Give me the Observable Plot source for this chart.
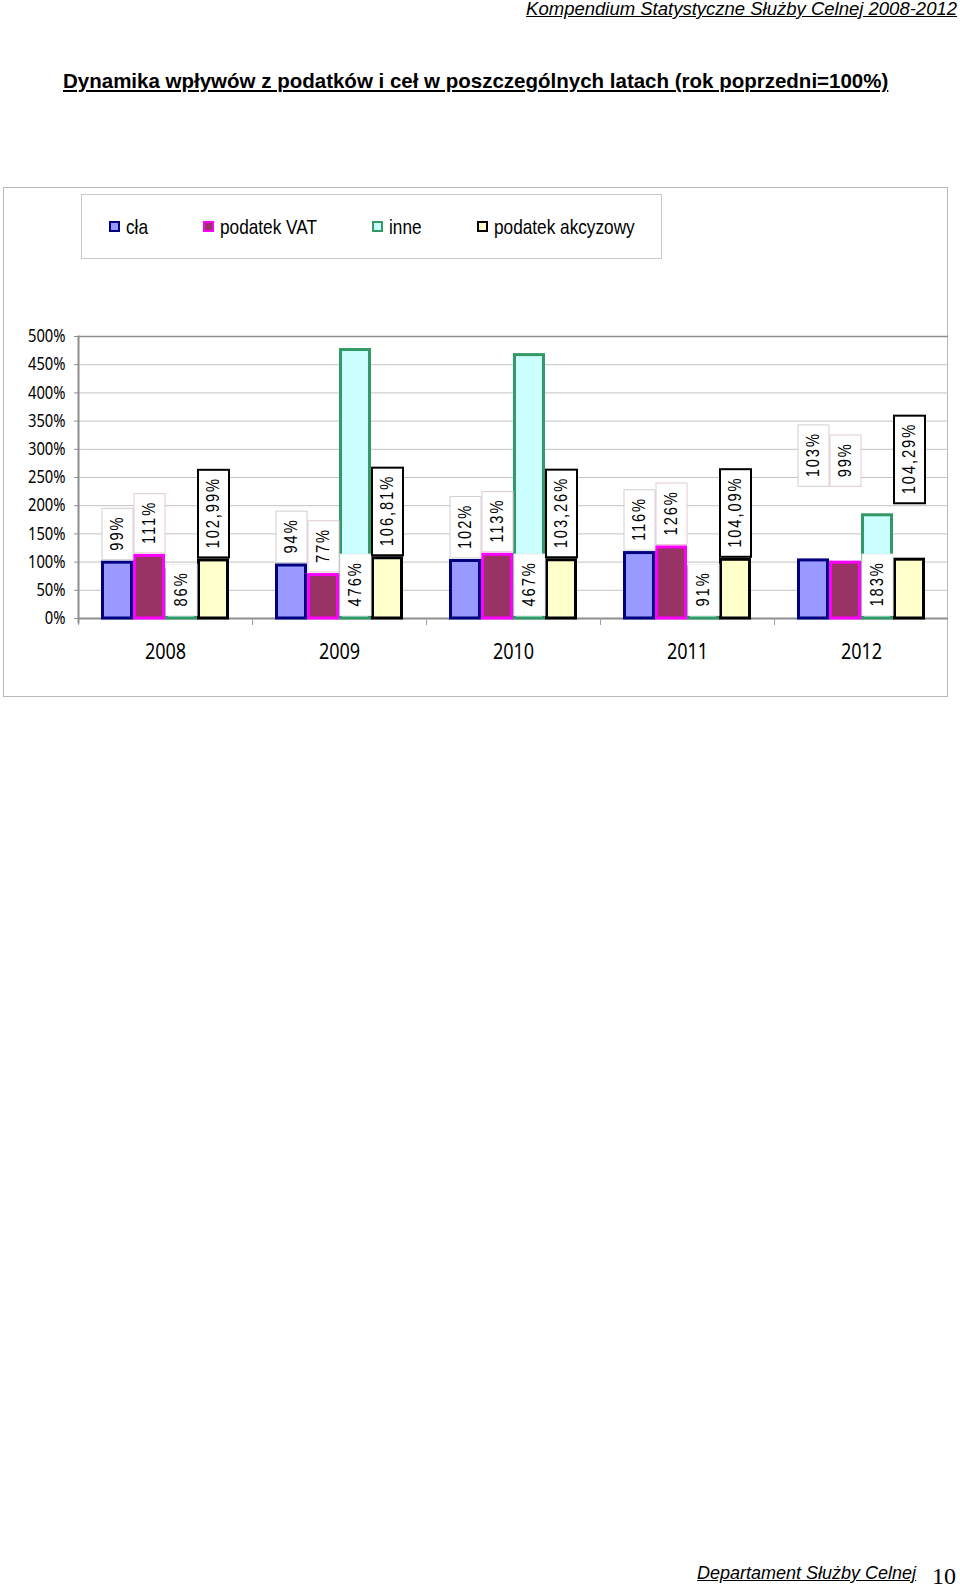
<!DOCTYPE html>
<html><head><meta charset="utf-8">
<script src="https://cdn.jsdelivr.net/npm/d3@7"></script>
<script src="https://cdn.jsdelivr.net/npm/@observablehq/plot@0.6"></script>
<style>
body{margin:0;background:#fff;width:960px;height:1588px;position:relative;overflow:hidden;font-family:"Liberation Sans",Arial,sans-serif;color:#000;}
.abs{position:absolute;white-space:nowrap;line-height:1;}
#header{right:3px;top:0px;font-size:18.5px;font-style:italic;text-decoration:underline;}
#title{left:63px;top:71px;font-size:20.5px;font-weight:bold;text-decoration:underline;}
#frame{left:3px;top:187px;width:945px;height:510px;border:1.5px solid #b8b8b8;box-sizing:border-box;}
#legend{left:81px;top:194px;width:581px;height:65px;border:1.5px solid #c8c8c8;box-sizing:border-box;display:flex;align-items:center;padding-left:27px;gap:55px;font-size:21px;line-height:1;}
.item{display:flex;align-items:center;}
.sw{width:7px;height:7px;border:2.5px solid;margin-right:6px;flex:none;}
.lt{display:inline-block;transform:scaleX(0.82);transform-origin:0 50%;}
#chart{left:0;top:320px;}
#footer{left:697px;top:1564px;font-size:18px;font-style:italic;text-decoration:underline;}
#pageno{left:932px;top:1566px;font-family:"Liberation Serif","Times New Roman",serif;font-size:24px;line-height:20px;}
</style>
</head>
<body>
<div id="header" class="abs">Kompendium Statystyczne Służby Celnej 2008-2012</div>
<div id="title" class="abs">Dynamika wpływów z podatków i ceł w poszczególnych latach (rok poprzedni=100%)</div>
<div id="frame" class="abs"></div>
<div id="legend" class="abs"></div>
<div id="chart" class="abs"></div>
<div id="footer" class="abs">Departament Służby Celnej</div>
<div id="pageno" class="abs">10</div>
<script>
// ---- data ----
const years = ["2008", "2009", "2010", "2011", "2012"];
const series = ["cła", "podatek VAT", "inne", "podatek akcyzowy"];
const cla = [99, 94, 102, 116, 103];
const vat = [111, 77, 113, 126, 99];
const inne = [86, 476, 467, 91, 183];
const akcyza = [102.99, 106.81, 103.26, 104.09, 104.29];
const yTicks = [0, 50, 100, 150, 200, 250, 300, 350, 400, 450, 500];

// ---- styles ----
const fills = {"cła": "#9999ff", "podatek VAT": "#993366", "inne": "#ccffff", "podatek akcyzowy": "#ffffcc"};
const strokes = {"cła": "#000080", "podatek VAT": "#ff00ff", "inne": "#339966", "podatek akcyzowy": "#000000"};
const boxStroke = {"cła": "#d0d0d0", "podatek VAT": "#e4c8d4", "inne": "#e6efea", "podatek akcyzowy": "#000000"};
const boxStrokeWidth = {"cła": 1, "podatek VAT": 1, "inne": 1, "podatek akcyzowy": 2};
// in 2012 the labels were moved up in the original chart (anchor level, in %)
const raisedYear = "2012";
const raisedAnchor = {"cła": 229, "podatek VAT": 229, "podatek akcyzowy": 199};
const CONDENSE = 0.82; // emulates a narrow typeface

const valuesBySeries = [cla, vat, inne, akcyza];
const rows = [];
series.forEach((s, si) => years.forEach((y, yi) => rows.push({year: y, series: s, value: valuesBySeries[si][yi]})));

const fmt = d => d.series === "podatek akcyzowy"
  ? d.value.toFixed(2).replace(".", ",") + "%"
  : d.value + "%";

// legend
const legend = document.getElementById("legend");
series.forEach(s => {
  const it = document.createElement("div"); it.className = "item";
  const sw = document.createElement("div"); sw.className = "sw";
  sw.style.background = fills[s]; sw.style.borderColor = strokes[s];
  const tx = document.createElement("span"); tx.className = "lt"; tx.textContent = s;
  it.append(sw, tx); legend.append(it);
});
legend.querySelectorAll(".lt").forEach(el => {
  el.style.marginRight = (-el.offsetWidth * (1 - CONDENSE)) + "px";
});

const labelMarks = series.map((s, si) => {
  const data = rows.filter(d => d.series === s);
  return Plot.text(data, {
    fx: "year", x: "series",
    y: s === "inne" ? () => 0 : d => (d.year === raisedYear ? raisedAnchor[s] : d.value),
    text: fmt, rotate: -90, textAnchor: "start", dy: -12,
    fontSize: 18, fontFamily: '"Liberation Sans",Arial,sans-serif', fill: "#000",
    ariaDescription: "lbl-" + si
  });
});

const plot = Plot.plot({
  width: 960, height: 348,
  marginLeft: 78, marginRight: 12, marginTop: 16, marginBottom: 50,
  fx: {domain: years, padding: 0, label: null},
  x: {domain: series, paddingInner: 0, paddingOuter: 0.677, axis: null},
  y: {domain: [0, 500], label: null},
  marks: [
    Plot.gridY(yTicks.filter(v => v > 0 && v < 500), {stroke: "#c2c2c2", strokeOpacity: 1, strokeWidth: 1}),
    Plot.ruleY([500], {stroke: "#8e8e8e", strokeWidth: 1.5}),
    Plot.ruleY([0], {stroke: "#8e8e8e", strokeWidth: 2}),
    Plot.frame({anchor: "left", insetTop: 282, insetBottom: -6, stroke: "#a0a0a0", strokeWidth: 1}),
    Plot.frame({anchor: "left", facetAnchor: "left", insetBottom: -4, stroke: "#8e8e8e", strokeWidth: 2}),
    Plot.axisY(yTicks, {anchor: "left", tickFormat: d => d + "%", tickSize: 4, tickPadding: 9,
      fontSize: 18, stroke: "#8e8e8e", fill: "#000", label: null, ariaDescription: "ytick"}),
    Plot.axisFx({anchor: "bottom", tickSize: 0, tickPadding: 25, fontSize: 22, fill: "#000", label: null, ariaDescription: "fxtick"}),
    Plot.barY(rows, {
      fx: "year", x: "series", y: "value",
      fill: d => fills[d.series], stroke: d => strokes[d.series],
      strokeWidth: 3, insetLeft: 1.5, insetRight: 1.5
    }),
    ...labelMarks
  ]
});
document.getElementById("chart").append(plot);

// condense a text element horizontally (in its own coordinate system) around its anchor
function condense(t) {
  const tr = t.getAttribute("transform") || "";
  const x = +(t.getAttribute("x") || 0);
  t.setAttribute("transform", x
    ? `${tr} translate(${x},0) scale(${CONDENSE},1) translate(${-x},0)`
    : `${tr} scale(${CONDENSE},1)`);
}
plot.querySelectorAll('g[aria-description="ytick"] text, g[aria-description="fxtick"] text, g[aria-label="y-axis tick label"] text, g[aria-label="fx-axis tick label"] text')
  .forEach(t => { if (!t.dataset.done) { t.dataset.done = 1; condense(t); } });

// white label boxes behind the rotated value labels
const NS = "http://www.w3.org/2000/svg";
series.forEach((s, si) => {
  plot.querySelectorAll(`g[aria-description="lbl-${si}"] text`).forEach(t => {
    t.style.letterSpacing = "2.3px";
    const b = t.getBBox();
    const tr = t.getAttribute("transform") || "";
    const pad = 9, half = 15.5;
    const r = document.createElementNS(NS, "rect");
    r.setAttribute("x", b.x * CONDENSE - pad);
    r.setAttribute("y", -half);
    r.setAttribute("width", (b.width - 2.3) * CONDENSE + 2 * pad);
    r.setAttribute("height", 2 * half);
    r.setAttribute("transform", tr);
    r.setAttribute("fill", "#ffffff");
    r.setAttribute("stroke", boxStroke[s]);
    r.setAttribute("stroke-width", boxStrokeWidth[s]);
    t.parentNode.insertBefore(r, t);
    t.setAttribute("transform", `${tr} scale(${CONDENSE},1)`);
  });
});
</script>
</body></html>
